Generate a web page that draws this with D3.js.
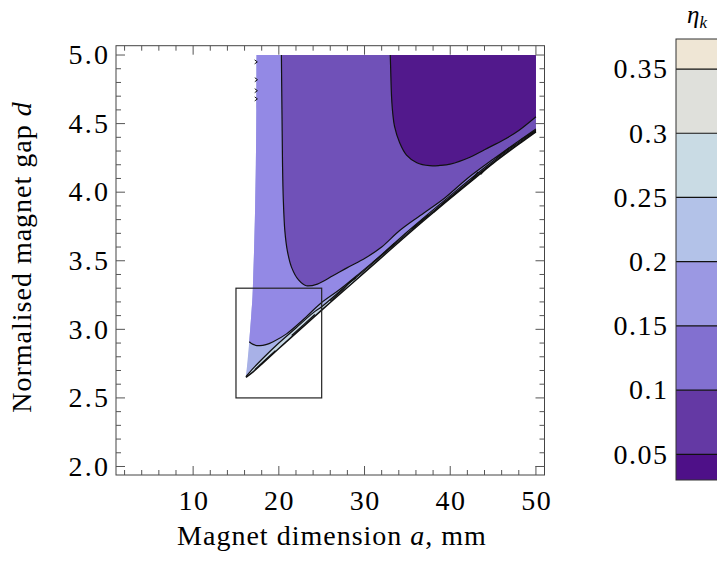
<!DOCTYPE html>
<html><head><meta charset="utf-8">
<script src="https://cdn.jsdelivr.net/npm/d3@7"></script>
<style>body{margin:0;background:#fff}svg{display:block}</style>
</head><body>
<svg id="c" width="717" height="564"></svg>
<script>
// ---------- data ----------
const xTicks = [10, 20, 30, 40, 50];
const yTicks = [2.0, 2.5, 3.0, 3.5, 4.0, 4.5, 5.0];
const legendLevels = [0.05, 0.1, 0.15, 0.2, 0.25, 0.3, 0.35];
const legendRange = [0.03, 0.3734];
const legendColors = ["#4e1088", "#6439a4", "#8270d0", "#9b98e3", "#b3c2e8", "#c9dbe4", "#dfe0db", "#efe6d5"];

// left boundary of the feasible region (a, d)
const leftA = [17.40, 17.38, 17.32, 17.22, 17.12, 17.00, 16.93, 16.80, 16.55, 16.35, 16.16];
const leftD = [5.00, 4.60, 4.21, 3.85, 3.60, 3.36, 3.24, 3.12, 2.91, 2.77, 2.655];
// lower-right edge of the feasible region
const edgeA = [16.16, 17, 18, 20, 22, 25, 28, 30, 33, 35, 38, 40, 43, 45, 48, 50];
const edgeD = [2.650, 2.69, 2.746, 2.86, 2.972, 3.14, 3.305, 3.415, 3.58, 3.69, 3.85, 3.955, 4.108, 4.21, 4.35, 4.44];
// contour lines
const c1A = [33.0, 33.05, 33.15, 33.3, 33.5, 34.1, 34.9, 36.1, 37.6, 38.8, 40.0, 42.3, 44.0, 46.2, 48.0, 50.0];
const c1D = [5.0, 4.90, 4.70, 4.57, 4.48, 4.36, 4.27, 4.215, 4.193, 4.195, 4.205, 4.255, 4.31, 4.38, 4.45, 4.55];
const c2A = [20.3, 20.33, 20.38, 20.43, 20.52, 20.7, 21.0, 21.5, 22.3, 23.2, 24.5, 26.3, 28.0, 30.1, 32.0, 34.1, 36.5, 39.4, 42.0, 45.0, 50.0];
const c2D = [5.0, 4.80, 4.50, 4.21, 3.95, 3.72, 3.57, 3.45, 3.36, 3.318, 3.33, 3.39, 3.45, 3.52, 3.60, 3.72, 3.83, 3.96, 4.10, 4.24, 4.46];
const c3A = [16.55, 17.0, 17.78, 18.5, 19.34, 20.9, 22.8, 24.9, 27.1, 29.45, 32.0, 35.0, 40.0, 45.0, 50.0];
const c3D = [2.91, 2.89, 2.881, 2.888, 2.91, 2.967, 3.068, 3.19, 3.29, 3.41, 3.545, 3.712, 3.975, 4.228, 4.452];
const c4A = [16.16, 17, 18, 20, 22, 24, 25, 28, 30, 35, 40, 45, 50];
const c4D = [2.655, 2.715, 2.78, 2.90, 3.01, 3.12, 3.165, 3.325, 3.43, 3.70, 3.963, 4.217, 4.445];
// ragged contour fragments hugging the edge (a, d)
const ragA = [[17.2, 18.5, 19.6], [21.5, 23.0, 24.2], [26.0, 27.5, 28.2, 29.0], [31.0, 32.4, 33.5], [35.5, 36.6, 37.5], [39.0, 40.4, 41.2], [42.5, 43.2, 43.6, 44.2], [45.4, 46.8, 47.5], [48.2, 49.4, 50.0]];
const ragD = [[2.706, 2.782, 2.845], [2.955, 3.040, 3.108], [3.206, 3.290, 3.340, 3.376], [3.490, 3.565, 3.628], [3.732, 3.792, 3.835], [3.912, 3.980, 4.022], [4.090, 4.145, 4.132, 4.175], [4.250, 4.320, 4.345], [4.380, 4.430, 4.450]];
// small contour fragments along the left boundary
const fragA = [17.35, 17.37, 17.36, 17.36];
const fragD = [4.95, 4.82, 4.74, 4.68];
// inset rectangle [a0,a1] x [d0,d1]
const insetA = [15, 25];
const insetD = [2.5, 3.3];
// region colours (top-right darkest -> edge band)
const regionColors = ["#52198c", "#7051b8", "#9389e5", "#a8b1e7", "#c6d7e5"];

// ---------- layout ----------
const svg = d3.select("#c");
const FONT = "'Liberation Serif','Times New Roman',Times,serif";
const x = d3.scaleLinear().domain([1, 51]).range([116, 544.5]);
const y = d3.scaleLinear().domain([1.938, 5.068]).range([475, 45.7]);
const pts = (A, D) => A.map((a, i) => [a, D[i]]);
const smooth = d3.line().x(p => x(p[0])).y(p => y(p[1])).curve(d3.curveCatmullRom.alpha(0.5));
const straight = d3.line().x(p => x(p[0])).y(p => y(p[1]));
const Lto = P => P.map(p => "L" + x(p[0]) + "," + y(p[1])).join("");

// feasible domain: smooth left boundary + smooth edge, straight right side and top
const domainPath = smooth(pts(leftA, leftD)) + Lto([[edgeA[0], edgeD[0]]]) +
  smooth(pts(edgeA, edgeD)).replace(/^M/, "L") + Lto([[50, 5.0]]) + "Z";
svg.append("clipPath").attr("id", "dom").append("path").attr("d", domainPath);
svg.append("clipPath").attr("id", "frame").append("rect")
  .attr("x", x(1)).attr("y", y(5.068)).attr("width", x(51) - x(1)).attr("height", y(1.938) - y(5.068));

const g = svg.append("g").attr("clip-path", "url(#dom)");
g.append("path").attr("d", domainPath).attr("fill", regionColors[4]);
function regionPath(P, tail) {
  return smooth(P) + Lto(tail) + "Z";
}
const c4 = pts(c4A, c4D), c3 = pts(c3A, c3D), c2 = pts(c2A, c2D), c1 = pts(c1A, c1D);
g.append("path").attr("fill", regionColors[3])
  .attr("d", regionPath(c4, [[51, c4D[c4D.length - 1]], [51, 5.2], [0, 5.2], [0, c4D[0]]]));
g.append("path").attr("fill", regionColors[2])
  .attr("d", regionPath(c3, [[51, c3D[c3D.length - 1]], [51, 5.2], [0, 5.2], [0, c3D[0]]]));
g.append("path").attr("fill", regionColors[1])
  .attr("d", regionPath(c2, [[51, c2D[c2D.length - 1]], [51, 5.2], [c2A[0], 5.2]]));
g.append("path").attr("fill", regionColors[0])
  .attr("d", regionPath(c1, [[51, c1D[c1D.length - 1]], [51, 5.2], [c1A[0], 5.2]]));

// contour lines
const lg = svg.append("g").attr("clip-path", "url(#frame)").attr("fill", "none").attr("stroke", "#111");
[c1, c2, c3, c4].forEach(P => lg.append("path").attr("d", smooth(P)).attr("stroke-width", 1.2));
lg.append("path").attr("d", smooth(pts(edgeA, edgeD))).attr("stroke-width", 1.5);
ragA.forEach((A, i) => lg.append("path").attr("d", straight(pts(A, ragD[i]))).attr("stroke-width", 1.2));
fragA.forEach((a, i) => {
  const px = x(a), py = y(fragD[i]);
  lg.append("path").attr("d", `M${px - 1.5},${py - 2}L${px + 1.2},${py}L${px - 1.5},${py + 2}`).attr("stroke-width", 1);
});

// inset rectangle
svg.append("rect").attr("x", x(insetA[0])).attr("y", y(insetD[1]))
  .attr("width", x(insetA[1]) - x(insetA[0])).attr("height", y(insetD[0]) - y(insetD[1]))
  .attr("fill", "none").attr("stroke", "#222").attr("stroke-width", 1.2);

// frame + ticks
const X0 = x(1), X1 = x(51), Y0 = y(5.068), Y1 = y(1.938);
svg.append("rect").attr("x", X0).attr("y", Y0).attr("width", X1 - X0).attr("height", Y1 - Y0)
  .attr("fill", "none").attr("stroke", "#444").attr("stroke-width", 1);
const tg = svg.append("g").attr("stroke", "#555").attr("stroke-width", 1);
d3.range(2, 51, 2).forEach(v => {
  const L = xTicks.includes(v) ? 9 : 5;
  tg.append("line").attr("x1", x(v)).attr("x2", x(v)).attr("y1", Y1).attr("y2", Y1 - L);
  tg.append("line").attr("x1", x(v)).attr("x2", x(v)).attr("y1", Y0).attr("y2", Y0 + L);
});
d3.range(20, 51, 1).map(v => v / 10).forEach(v => {
  const L = (Math.round(v * 10) % 5 === 0) ? 9 : 5;
  tg.append("line").attr("y1", y(v)).attr("y2", y(v)).attr("x1", X0).attr("x2", X0 + L);
  tg.append("line").attr("y1", y(v)).attr("y2", y(v)).attr("x1", X1).attr("x2", X1 - L);
});
// tick labels
const fs = 28, ls = 1.5, lsY = 2.2;
svg.append("g").selectAll("text").data(xTicks).join("text")
  .attr("x", d => x(d) + ls / 2).attr("y", 510).attr("text-anchor", "middle").attr("letter-spacing", ls)
  .attr("font-family", FONT).attr("font-size", fs).text(d => d);
svg.append("g").selectAll("text").data(yTicks).join("text")
  .attr("x", 108 + lsY).attr("y", d => y(d) + 9.3).attr("text-anchor", "end").attr("letter-spacing", lsY)
  .attr("font-family", FONT).attr("font-size", fs).text(d => d3.format(".1f")(d));
// axis titles
const xt = svg.append("text").attr("x", 332).attr("y", 545).attr("text-anchor", "middle").attr("letter-spacing", 1)
  .attr("font-family", FONT).attr("font-size", fs);
xt.append("tspan").text("Magnet dimension ");
xt.append("tspan").attr("font-style", "italic").text("a");
xt.append("tspan").text(", mm");
const yt = svg.append("text").attr("transform", "translate(31,257) rotate(-90)").attr("text-anchor", "middle").attr("letter-spacing", 1)
  .attr("font-family", FONT).attr("font-size", fs);
yt.append("tspan").text("Normalised magnet gap ");
yt.append("tspan").attr("font-style", "italic").text("d");

// ---------- legend ----------
const ly = d3.scaleLinear().domain(legendRange).range([480, 39]);
const bounds = [legendRange[0]].concat(legendLevels, [legendRange[1]]);
const LX = 676, LW = 50;
const leg = svg.append("g");
leg.selectAll("rect.b").data(d3.range(bounds.length - 1)).join("rect")
  .attr("x", LX).attr("width", LW).attr("y", i => ly(bounds[i + 1])).attr("height", i => ly(bounds[i]) - ly(bounds[i + 1]))
  .attr("fill", i => legendColors[i]);
leg.selectAll("line").data(legendLevels).join("line")
  .attr("x1", LX).attr("x2", LX + LW).attr("y1", d => ly(d)).attr("y2", d => ly(d))
  .attr("stroke", "#111").attr("stroke-width", 1.2);
leg.append("rect").attr("x", LX).attr("y", ly(legendRange[1])).attr("width", LW)
  .attr("height", ly(legendRange[0]) - ly(legendRange[1])).attr("fill", "none").attr("stroke", "#333");
leg.selectAll("text").data(legendLevels).join("text")
  .attr("x", 667 + ls).attr("y", d => ly(d) + 9.3).attr("text-anchor", "end").attr("letter-spacing", ls)
  .attr("font-family", FONT).attr("font-size", fs).text(d => String(d));
const lt = svg.append("text").attr("x", 687).attr("y", 23).attr("font-family", FONT).attr("font-size", 25).attr("font-style", "italic");
lt.append("tspan").text("η");
lt.append("tspan").attr("font-size", 17).attr("dy", 5).text("k");
</script>
</body></html>
